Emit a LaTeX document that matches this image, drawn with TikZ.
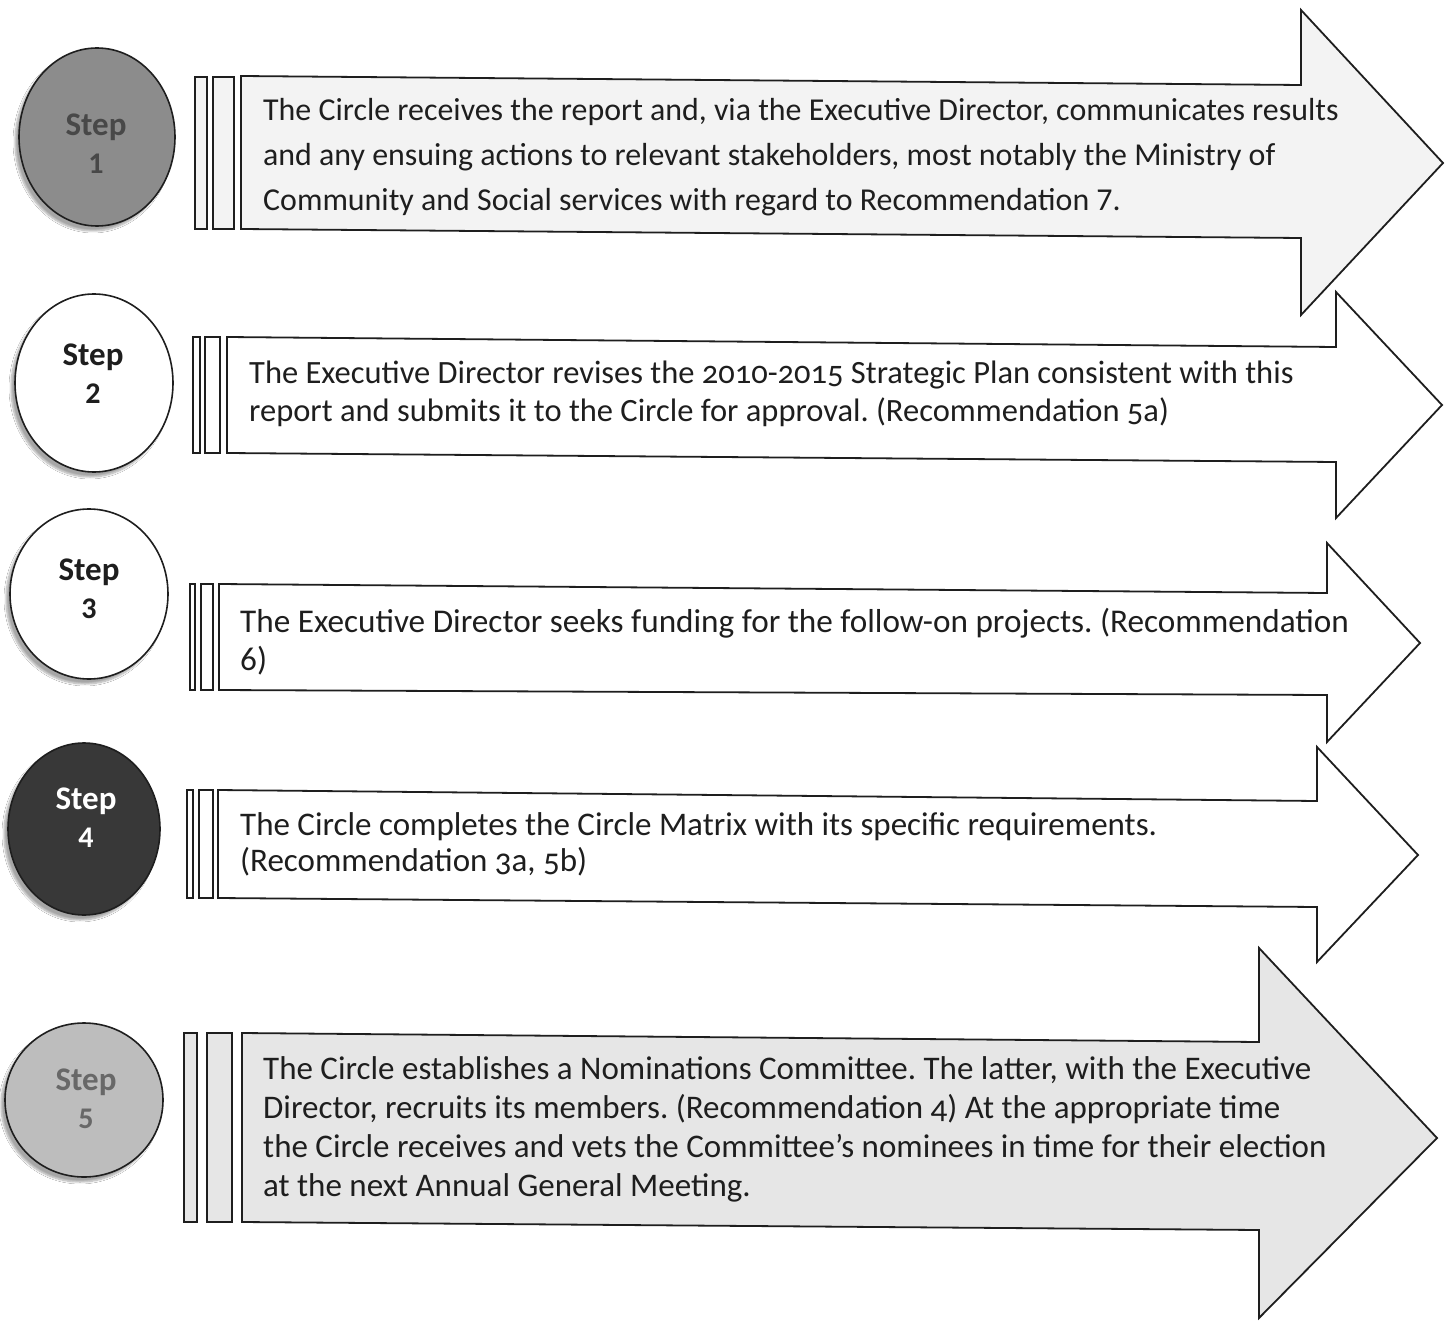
\documentclass[tikz,border=0pt]{standalone}
\usepackage{fontspec}
\setmainfont{Carlito}
\usetikzlibrary{shapes.geometric,shadows.blur}
\definecolor{ink}{HTML}{1E1E1E}
\definecolor{c1fill}{HTML}{8C8C8C}
\definecolor{c1text}{HTML}{484848}
\definecolor{c4fill}{HTML}{383838}
\definecolor{c5fill}{HTML}{BDBDBD}
\definecolor{c5text}{HTML}{686868}
\definecolor{pale}{HTML}{F3F3F3}
\definecolor{pale5}{HTML}{E6E6E6}
\tikzset{
  outl/.style={draw=ink, line width=1.8pt, line join=miter},
  arrowbox/.style={outl, fill=white},
  barbox/.style={outl, fill=white},
  stepcircle/.style={ellipse, draw=ink, line width=1.6pt, inner sep=0pt,
    blur shadow={shadow xshift=-4pt, shadow yshift=-5pt, shadow blur steps=8, shadow opacity=35}},
  steplabel/.style={align=center, inner sep=0pt, font={\fontsize{33}{42}\selectfont\bfseries}},
  bodytext/.style={align=left, inner sep=0pt, anchor=base west, text=ink}
}
\newcommand{\numsz}{\fontsize{30}{34}\selectfont}
\newcommand{\txtsz}[2]{\fontsize{#1}{#2}\selectfont\frenchspacing}
\begin{document}
\begin{tikzpicture}[x=1pt,y=-1pt]
\useasboundingbox[fill=white] (0,0) rectangle (1448,1324);

% ---------- Row 1 ----------
\draw[arrowbox, fill=pale] (241,76) -- (1301,85) -- (1301,10) -- (1443,163) -- (1301,315) -- (1301,238) -- (241,229) -- cycle;
\draw[barbox, fill=pale] (195,77) rectangle (207,229);
\draw[barbox, fill=pale] (213,77) rectangle (234,229);
\node[stepcircle, fill=c1fill, minimum width=156, minimum height=178] (c1) at (97,137) {};
\node[steplabel, text=c1text] (l1) at (96,144) {Step\\[-4pt]{\numsz 1}};
\node[bodytext, font={\txtsz{31.9}{45}}] (t1) at (263,211)
  {The Circle receives the report and, via the Executive Director, communicates results\\
   and any ensuing actions to relevant stakeholders, most notably the Ministry of\\
   Community and Social services with regard to Recommendation 7.};

% ---------- Row 2 ----------
\draw[arrowbox] (227,337) -- (1336,347) -- (1336,292) -- (1442,405) -- (1336,518) -- (1336,462) -- (227,453) -- cycle;
\draw[barbox] (193,337) rectangle (200,453);
\draw[barbox] (205,337) rectangle (220,453);
\node[stepcircle, fill=white, minimum width=158, minimum height=178] (c2) at (94,383) {};
\node[steplabel, text=ink] (l2) at (93,374) {Step\\[-4pt]{\numsz 2}};
\node[bodytext, font={\txtsz{32.5}{38}\addfontfeatures{Numbers=OldStyle}}] (t2) at (249,421)
  {The Executive Director revises the 2010-2015 Strategic Plan consistent with this\\
   report and submits it to the Circle for approval. (Recommendation 5a)};

% ---------- Row 3 ----------
\draw[arrowbox] (219,584) -- (1327,593) -- (1327,543) -- (1420,643) -- (1327,742) -- (1327,695) -- (219,690) -- cycle;
\draw[barbox] (190,584) rectangle (195,690);
\draw[barbox] (201,584) rectangle (213,690);
\node[stepcircle, fill=white, minimum width=158, minimum height=170] (c3) at (89,594) {};
\node[steplabel, text=ink] (l3) at (89,589) {Step\\[-4pt]{\numsz 3}};
\node[bodytext, font={\txtsz{33.2}{38}}] (t3) at (240,670)
  {The Executive Director seeks funding for the follow-on projects. (Recommendation\\
   6)};

% ---------- Row 4 ----------
\draw[arrowbox] (218,790) -- (1317,801) -- (1317,747) -- (1418,855) -- (1317,962) -- (1317,907) -- (218,898) -- cycle;
\draw[barbox] (187,790) rectangle (193,898);
\draw[barbox] (199,790) rectangle (213,898);
\node[stepcircle, fill=c4fill, minimum width=152, minimum height=172] (c4) at (84,829) {};
\node[steplabel, text=white] (l4) at (86,818) {Step\\[-4pt]{\numsz 4}};
\node[bodytext, font={\txtsz{33}{36}\addfontfeatures{Numbers=OldStyle}}] (t4) at (240,871)
  {The Circle completes the Circle Matrix with its specific requirements.\\
   (Recommendation 3a, 5b)};

% ---------- Row 5 ----------
\draw[arrowbox, fill=pale5] (242,1033) -- (1259,1042) -- (1259,948) -- (1437,1138) -- (1259,1318) -- (1259,1230) -- (242,1222) -- cycle;
\draw[barbox, fill=pale5] (184,1033) rectangle (197,1222);
\draw[barbox, fill=pale5] (207,1033) rectangle (232,1222);
\node[stepcircle, fill=c5fill, minimum width=158, minimum height=154] (c5) at (84,1100) {};
\node[steplabel, text=c5text] (l5) at (86,1099) {Step\\[-4pt]{\numsz 5}};
\node[bodytext, font={\txtsz{33}{39}\addfontfeatures{Numbers=OldStyle}}] (t5) at (263,1196)
  {The Circle establishes a Nominations Committee. The latter, with the Executive\\
   Director, recruits its members. (Recommendation 4) At the appropriate time\\
   the Circle receives and vets the Committee’s nominees in time for their election\\
   at the next Annual General Meeting.};
\end{tikzpicture}
\end{document}
